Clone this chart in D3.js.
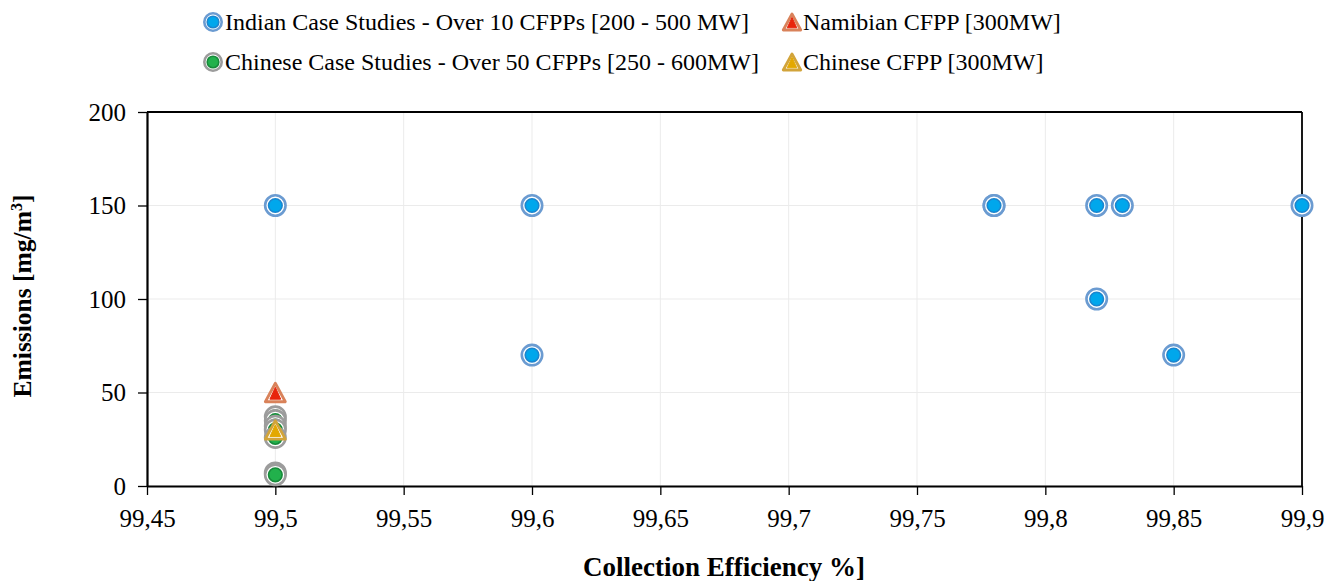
<!DOCTYPE html>
<html><head><meta charset="utf-8">
<script src="https://cdn.jsdelivr.net/npm/d3@7"></script>
<style>body{margin:0;background:#fff}svg{display:block}text{font-family:"Liberation Serif","Times New Roman",serif;fill:#000}</style>
</head><body><svg id="c" width="1338" height="581"></svg>
<script>
const xTicks = [99.45, 99.5, 99.55, 99.6, 99.65, 99.7, 99.75, 99.8, 99.85, 99.9];
const yTicks = [0, 50, 100, 150, 200];
const indianX = [99.5, 99.6, 99.6, 99.78, 99.78, 99.82, 99.83, 99.82, 99.85, 99.9];
const indianY = [150, 150, 70, 150, 150, 150, 150, 100, 70, 150];
const chineseX = [99.5, 99.5, 99.5, 99.5, 99.5, 99.5, 99.5];
const chineseY = [37, 35, 32, 30, 26, 7, 6];
const namibianX = [99.5];
const namibianY = [50];
const chineseCfppX = [99.5];
const chineseCfppY = [30];
const seriesNames = ["Indian Case Studies - Over 10 CFPPs [200 - 500 MW]","Namibian CFPP [300MW]","Chinese Case Studies - Over 50 CFPPs [250 - 600MW]","Chinese CFPP [300MW]"];

const FONT = '"Liberation Serif","Times New Roman",serif';
const svg = d3.select("#c");
const L=147,R=1302,T=112,B=486;
const x = d3.scaleLinear().domain([99.45,99.9]).range([L,R]);
const y = d3.scaleLinear().domain([0,200]).range([B,T]);

// grid
svg.append("g").selectAll("line").data(xTicks).join("line")
 .attr("x1",d=>x(d)).attr("x2",d=>x(d)).attr("y1",T).attr("y2",B).attr("stroke","#ebebeb").attr("stroke-width",1);
svg.append("g").selectAll("line").data(yTicks).join("line")
 .attr("x1",L).attr("x2",R).attr("y1",d=>y(d)).attr("y2",d=>y(d)).attr("stroke","#ebebeb").attr("stroke-width",1);

// frame top/right
svg.append("line").attr("x1",L).attr("x2",R).attr("y1",T).attr("y2",T).attr("stroke","#000").attr("stroke-width",1.8);
svg.append("line").attr("x1",R).attr("x2",R).attr("y1",T).attr("y2",B).attr("stroke","#000").attr("stroke-width",1.8);

// axes
const xa = svg.append("g").attr("transform",`translate(0,${B})`)
 .call(d3.axisBottom(x).tickValues(xTicks).tickFormat(d=>String(d).replace(".",",")).tickSize(9).tickSizeOuter(0));
const ya = svg.append("g").attr("transform",`translate(${L},0)`)
 .call(d3.axisLeft(y).tickValues(yTicks).tickSize(9).tickSizeOuter(0));
[xa,ya].forEach(a=>{a.attr("font-family",FONT).attr("font-size",25);
 a.select(".domain").attr("stroke","#000").attr("stroke-width",2.2);
 a.selectAll(".tick line").attr("stroke","#000").attr("stroke-width",1.3);
 a.selectAll("text").attr("fill","#000");});
xa.selectAll("text").attr("y",41).attr("dy",0);
ya.selectAll("text").attr("x",-21).attr("dy","0.33em");

// markers
function circleMark(g, cx, cy, outer, fill, inner, big){
  const r1 = big?10.2:8.7, r2 = big?6.8:5.8;
  g.append("circle").attr("cx",cx).attr("cy",cy).attr("r",r1).attr("fill","#fff").attr("stroke",outer).attr("stroke-width",2.6);
  g.append("circle").attr("cx",cx).attr("cy",cy).attr("r",r2).attr("fill",fill).attr("stroke",inner).attr("stroke-width",1.6);
}
function triMark(g, cx, cy, outer, fill, big){
  const w = big?20:17.5, h = big?18.5:16;
  const p = (k)=>`M${cx},${cy-h*k/2}L${cx+w*k/2},${cy+h*k/2}L${cx-w*k/2},${cy+h*k/2}Z`;
  g.append("path").attr("d",p(1)).attr("fill","#fff").attr("stroke",outer).attr("stroke-width",2.8).attr("stroke-linejoin","round");
  g.append("path").attr("d",`M${cx},${cy-h*0.28}L${cx+w*0.27},${cy+h*0.36}L${cx-w*0.27},${cy+h*0.36}Z`).attr("fill",fill).attr("stroke",fill).attr("stroke-width",1);
}
const gm = svg.append("g");
chineseX.forEach((v,i)=>circleMark(gm,x(v),y(chineseY[i]),"#9c9c9c","#22b14c","#178a3a",true));
namibianX.forEach((v,i)=>triMark(gm,x(v),y(namibianY[i]),"#d9825a","#e8250c",true));
chineseCfppX.forEach((v,i)=>triMark(gm,x(v),y(chineseCfppY[i]),"#d2a43a","#e3a800",true));
indianX.forEach((v,i)=>circleMark(gm,x(v),y(indianY[i]),"#6b9bd1","#00a7ec","#1b86cf",true));

// legend
const lg = svg.append("g");
const items = [
 {t:seriesNames[0],x:213,y:22,type:"c",o:"#6b9bd1",f:"#00a7ec",i:"#1b86cf"},
 {t:seriesNames[1],x:792,y:22,type:"t",o:"#d9825a",f:"#e8250c"},
 {t:seriesNames[2],x:213,y:62,type:"c",o:"#9c9c9c",f:"#22b14c",i:"#178a3a"},
 {t:seriesNames[3],x:792,y:62,type:"t",o:"#d2a43a",f:"#e3a800"}];
items.forEach(d=>{
  if(d.type==="c") circleMark(lg,d.x,d.y,d.o,d.f,d.i,false); else triMark(lg,d.x,d.y,d.o,d.f,false);
  lg.append("text").attr("x",d.x+(d.type==="c"?12:11)).attr("y",d.y+8).attr("font-family",FONT).attr("font-size",24).text(d.t);
});

// axis titles
svg.append("text").attr("x",724).attr("y",576).attr("text-anchor","middle").attr("font-family",FONT).attr("font-size",27).attr("font-weight","bold").text("Collection Efficiency %]");
const yt = svg.append("text").attr("transform","translate(31,296) rotate(-90)").attr("text-anchor","middle").attr("font-family",FONT).attr("font-size",25.5).attr("font-weight","bold");
yt.append("tspan").text("Emissions [mg/m");
yt.append("tspan").attr("dy",-9).attr("font-size",16).text("3");
yt.append("tspan").attr("dy",9).text("]");
</script></body></html>
